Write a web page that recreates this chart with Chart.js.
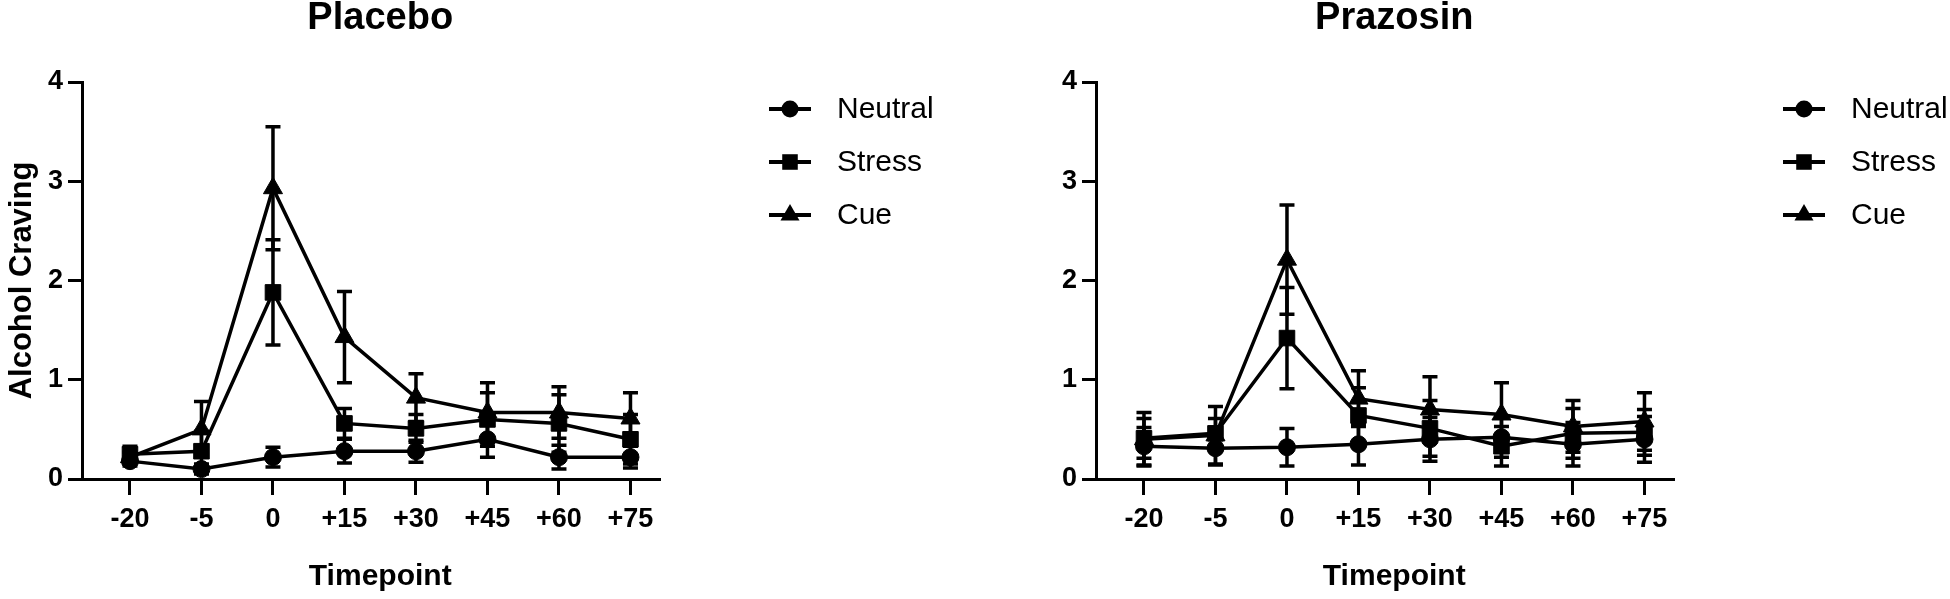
<!DOCTYPE html>
<html><head><meta charset="utf-8">
<script src="https://cdn.jsdelivr.net/npm/chart.js@4.4.0/dist/chart.umd.min.js"></script>
<style>
html,body{margin:0;padding:0;background:#fff;width:1950px;height:599px;overflow:hidden}
.panel{position:absolute;top:0;height:599px}
#p1{left:0;width:975px}
#p2{left:1014px;width:936px}
</style></head><body>
<div class="panel" id="p1"><canvas id="c1" width="975" height="599"></canvas></div>
<div class="panel" id="p2"><canvas id="c2" width="936" height="599"></canvas></div>
<script>
// ---- data ----
const timepoints = ['-20','-5','0','+15','+30','+45','+60','+75'];
const seriesNames = ['Neutral','Stress','Cue'];
const yTickValues = [0,1,2,3,4];
const panelTitles = ['Placebo','Prazosin'];
const yAxisTitle = 'Alcohol Craving';
const xAxisTitle = 'Timepoint';

const placeboNeutral    = [0.18,0.10,0.22,0.28,0.28,0.40,0.22,0.22];
const placeboNeutralErr = [0.05,0.05,0.10,0.12,0.11,0.18,0.12,0.11];
const placeboStress     = [0.25,0.28,1.88,0.56,0.51,0.60,0.56,0.40];
const placeboStressErr  = [0.08,0.20,0.53,0.15,0.14,0.27,0.29,0.25];
const placeboCue        = [0.22,0.50,2.93,1.43,0.82,0.67,0.67,0.61];
const placeboCueErr     = [0.05,0.28,0.62,0.46,0.24,0.30,0.26,0.26];

const prazosinNeutral    = [0.33,0.31,0.32,0.35,0.40,0.42,0.35,0.40];
const prazosinNeutralErr = [0.19,0.17,0.19,0.21,0.22,0.20,0.22,0.23];
const prazosinStress     = [0.41,0.46,1.42,0.64,0.51,0.33,0.46,0.47];
const prazosinStressErr  = [0.20,0.15,0.51,0.28,0.28,0.20,0.25,0.23];
const prazosinCue        = [0.40,0.44,2.21,0.81,0.70,0.65,0.53,0.58];
const prazosinCueErr     = [0.27,0.29,0.55,0.28,0.33,0.32,0.26,0.29];

// ---- styles ----
const FONT = "'Liberation Sans', Arial, Helvetica, sans-serif";
const pointStyles = ['circle','rect','triangle'];
const pointRadii = [8.5, 11, 11];

function drawMarker(ctx, style, x, y, r) {
  ctx.beginPath();
  if (style === 'circle') {
    ctx.arc(x, y, r, 0, Math.PI * 2);
  } else if (style === 'rect') {
    const s = r * Math.SQRT1_2;
    ctx.rect(x - s, y - s, 2 * s, 2 * s);
  } else {
    let rad = 0;
    ctx.moveTo(x + Math.sin(rad) * r, y - Math.cos(rad) * r);
    rad += 2 * Math.PI / 3;
    ctx.lineTo(x + Math.sin(rad) * r, y - Math.cos(rad) * r);
    rad += 2 * Math.PI / 3;
    ctx.lineTo(x + Math.sin(rad) * r, y - Math.cos(rad) * r);
    ctx.closePath();
  }
  ctx.fill();
}

const errorBarPlugin = {
  id: 'errbars',
  beforeDatasetsDraw(chart) {
    const {ctx} = chart;
    const xs = chart.scales.x, ys = chart.scales.y;
    ctx.save();
    ctx.strokeStyle = '#000';
    ctx.lineWidth = 3.5;
    chart.data.datasets.forEach(ds => {
      ds.errors.forEach((e, i) => {
        const v = ds.data[i].y;
        const px = xs.getPixelForValue(ds.data[i].x);
        const yt = ys.getPixelForValue(v + e), yb = ys.getPixelForValue(v - e);
        ctx.beginPath();
        ctx.moveTo(px, yt); ctx.lineTo(px, yb);
        ctx.moveTo(px - 7.5, yt); ctx.lineTo(px + 7.5, yt);
        ctx.moveTo(px - 7.5, yb); ctx.lineTo(px + 7.5, yb);
        ctx.stroke();
      });
    });
    ctx.restore();
  }
};

const decorPlugin = {
  id: 'decor',
  afterDraw(chart) {
    const {ctx, chartArea} = chart;
    const opts = chart.options.plugins.decor;
    const xs = chart.scales.x;
    const cx = (xs.getPixelForValue(0) + xs.getPixelForValue(timepoints.length - 1)) / 2;
    ctx.save();
    ctx.fillStyle = '#000';
    ctx.textAlign = 'center';
    ctx.textBaseline = 'alphabetic';
    ctx.font = 'bold 38px ' + FONT;
    ctx.fillText(opts.title, cx, 29);
    ctx.font = 'bold 30px ' + FONT;
    ctx.fillText(xAxisTitle, cx, 585);
    // legend
    const lx = chartArea.left + 687;
    chart.data.datasets.forEach((ds, k) => {
      const cy = 109 + k * 53;
      ctx.strokeStyle = '#000';
      ctx.lineWidth = 4;
      ctx.beginPath();
      ctx.moveTo(lx, cy); ctx.lineTo(lx + 42, cy);
      ctx.stroke();
      drawMarker(ctx, ds.pointStyle, lx + 21, cy, ds.pointRadius);
      ctx.textAlign = 'left';
      ctx.textBaseline = 'middle';
      ctx.font = '30px ' + FONT;
      ctx.fillText(ds.label, lx + 68, cy + 1);
    });
    ctx.restore();
  }
};

function makeChart(id, title, values, errs, rightPad) {
  const datasets = values.map((arr, k) => ({
    label: seriesNames[k],
    data: arr.map((v, i) => ({x: i, y: v})),
    errors: errs[k],
    borderColor: '#000',
    backgroundColor: '#000',
    borderWidth: 3.5,
    pointStyle: pointStyles[k],
    pointRadius: pointRadii[k],
    pointBorderWidth: 1,
    pointBackgroundColor: '#000',
    pointBorderColor: '#000',
    tension: 0,
    clip: false
  }));
  return new Chart(document.getElementById(id), {
    type: 'line',
    data: {datasets},
    plugins: [errorBarPlugin, decorPlugin],
    options: {
      responsive: false,
      animation: false,
      events: [],
      layout: {padding: {left: 0, top: 82, right: rightPad, bottom: 0}},
      plugins: {
        legend: {display: false},
        tooltip: {enabled: false},
        title: {display: false},
        decor: {title}
      },
      scales: {
        x: {
          type: 'linear',
          min: -0.671, max: 7.40,
          afterBuildTicks: axis => { axis.ticks = timepoints.map((_, i) => ({value: i})); },
          afterFit: scale => { scale.height = 120; },
          ticks: {
            callback: v => timepoints[v] ?? '',
            color: '#000',
            font: {family: FONT, size: 27, weight: 'bold'},
            padding: 8,
            maxRotation: 0, autoSkip: false
          },
          grid: {display: true, drawOnChartArea: false, drawTicks: true, tickLength: 16,
                 tickWidth: 3, tickColor: '#000', color: '#000', lineWidth: 3},
          border: {display: true, color: '#000', width: 3},
          title: {display: false}
        },
        y: {
          type: 'linear',
          min: 0, max: 4,
          afterBuildTicks: axis => { axis.ticks = yTickValues.map(v => ({value: v})); },
          afterFit: scale => { scale.width = 82; },
          ticks: {
            color: '#000',
            font: {family: FONT, size: 27, weight: 'bold'},
            padding: 5
          },
          grid: {display: true, drawOnChartArea: false, drawTicks: true, tickLength: 14,
                 tickWidth: 3, tickColor: '#000', color: '#000', lineWidth: 3},
          border: {display: true, color: '#000', width: 3},
          title: {display: id === 'c1', text: yAxisTitle, color: '#000',
                  font: {family: FONT, size: 31, weight: 'bold'},
                  padding: {top: 4, bottom: 0}}
        }
      }
    }
  });
}

const W = 82 + 71.5 * (7.40 + 0.671);
makeChart('c1', panelTitles[0],
  [placeboNeutral, placeboStress, placeboCue],
  [placeboNeutralErr, placeboStressErr, placeboCueErr], 975 - W);
makeChart('c2', panelTitles[1],
  [prazosinNeutral, prazosinStress, prazosinCue],
  [prazosinNeutralErr, prazosinStressErr, prazosinCueErr], 936 - W);
</script>
</body></html>
